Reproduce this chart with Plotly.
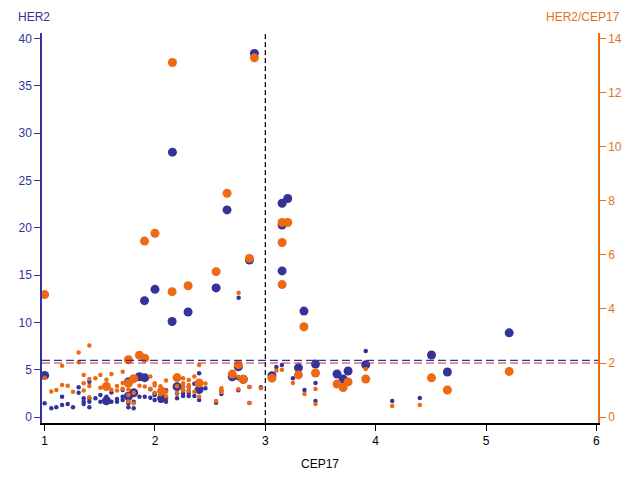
import plotly.graph_objects as go

# ---- data: large markers ----
big_cep17 = [1.00, 2.901, 2.158, 1.905, 2.00, 2.155, 2.30, 2.554, 2.653, 2.856,
             3.152, 3.203, 3.152, 3.152, 3.35, 5.21, 3.06, 3.65, 3.705, 3.75,
             3.91, 4.506, 4.65, 3.455, 3.30, 2.755, 2.70, 2.80, 1.807, 1.859,
             1.907, 1.759, 1.759, 2.20, 2.06, 1.56, 2.40]
big_her2 = [4.4, 38.44, 28.0, 12.3, 13.5, 10.1, 11.1, 13.65, 21.9, 16.6,
            22.6, 23.1, 20.3, 15.45, 11.2, 8.9, 4.37, 4.55, 4.02, 4.87,
            5.53, 6.56, 4.76, 5.6, 5.2, 5.32, 4.26, 3.99, 2.57, 4.26,
            4.16, 3.72, 2.2, 3.21, 1.98, 1.72, 2.9]
big_ratio = [4.53, 13.29, 13.12, 6.51, 6.8, 4.64, 4.86, 5.38, 8.28, 5.87,
             7.2, 7.2, 6.46, 4.9, 3.34, 1.69, 1.44, 1.22, 1.09, 1.30,
             1.41, 1.45, 1.0, 1.63, 1.56, 1.94, 1.59, 1.40, 1.42, 2.29,
             2.18, 2.12, 1.25, 1.46, 0.96, 1.13, 1.26]

# ---- data: small markers ----
small_cep17 = [1.00, 1.06, 1.106, 1.158, 1.158, 1.209, 1.257, 1.308, 1.308, 1.354,
               1.354, 1.354, 1.405, 1.405, 1.405, 1.405, 1.46, 1.505, 1.505, 1.56,
               1.605, 1.605, 1.656, 1.656, 1.707, 1.707, 1.707, 1.759, 1.759, 1.759,
               1.807, 1.807, 1.859, 1.907, 1.958, 1.958, 1.997, 1.997, 1.997, 2.049,
               2.049, 2.10, 2.10, 2.10, 2.20, 2.20, 2.255, 2.255, 2.255, 2.255,
               2.306, 2.306, 2.306, 2.306, 2.357, 2.357, 2.40, 2.40, 2.40, 2.457,
               2.554, 2.602, 2.602, 2.755, 2.755, 2.758, 2.856, 2.856, 2.96, 3.10,
               3.15, 3.25, 3.355, 3.455, 3.455, 3.91, 4.15, 4.40]
small_her2 = [1.45, 0.92, 1.03, 1.27, 2.15, 1.37, 1.03, 3.14, 2.57, 1.98,
              1.62, 1.37, 1.98, 1.62, 1.03, 3.72, 1.98, 2.33, 1.62, 2.15,
              1.62, 2.6, 1.90, 1.62, 2.15, 1.80, 2.87, 1.80, 1.45, 1.03,
              0.92, 1.62, 2.15, 2.15, 2.05, 2.93, 2.33, 1.80, 2.5, 2.33,
              1.72, 1.98, 1.62, 2.84, 2.5, 1.98, 2.5, 2.22, 3.24, 2.82,
              2.75, 2.22, 3.17, 2.58, 2.22, 3.53, 4.62, 3.04, 1.80, 3.04,
              1.51, 2.78, 2.43, 4.1, 2.84, 12.6, 3.18, 1.48, 3.16, 5.3,
              5.5, 4.1, 2.86, 3.6, 1.69, 6.98, 1.69, 2.0]
small_ratio = [1.45, 0.95, 1.0, 1.19, 1.9, 1.16, 0.94, 2.39, 2.03, 1.56,
               1.25, 0.98, 1.41, 1.15, 0.73, 2.65, 1.44, 1.56, 1.08, 1.38,
               1.01, 1.59, 1.15, 0.98, 1.26, 1.05, 1.68, 1.02, 0.82, 0.58,
               0.51, 0.90, 1.16, 1.13, 1.05, 1.50, 1.17, 0.90, 1.25, 1.14,
               0.84, 0.94, 0.77, 1.35, 1.14, 0.90, 1.11, 0.98, 1.44, 1.25,
               1.19, 0.96, 1.37, 1.12, 0.94, 1.50, 1.93, 1.27, 0.75, 1.24,
               0.59, 1.07, 0.93, 1.49, 1.03, 4.6, 1.11, 0.52, 1.07, 1.71,
               1.75, 1.26, 0.85, 1.04, 0.48, 1.78, 0.41, 0.45]

x_ticks = [1, 2, 3, 4, 5, 6]
her2_ticks = [0, 5, 10, 15, 20, 25, 30, 35, 40]
ratio_ticks = [0, 2, 4, 6, 8, 10, 12, 14]
her2_cutoff = 6
ratio_cutoff = 2
cep17_cutoff = 3

NAVY = "#333399"
ORANGE = "#EE6A12"
ORANGE_TXT = "#E0731E"
RED = "#C83232"
FONT = "Liberation Sans, Arial, sans-serif"

fig = go.Figure()
fig.add_trace(go.Scatter(x=small_cep17, y=small_her2, mode="markers",
                         marker=dict(size=4.5, color=NAVY), yaxis="y", showlegend=False))
fig.add_trace(go.Scatter(x=small_cep17, y=small_ratio, mode="markers",
                         marker=dict(size=4.5, color=ORANGE), yaxis="y2", showlegend=False))
fig.add_trace(go.Scatter(x=big_cep17, y=big_her2, mode="markers",
                         marker=dict(size=9, color=NAVY), yaxis="y", showlegend=False))
fig.add_trace(go.Scatter(x=big_cep17, y=big_ratio, mode="markers",
                         marker=dict(size=9, color=ORANGE), yaxis="y2", showlegend=False))

# reference lines
fig.add_shape(type="line", xref="paper", yref="y", x0=0, x1=1, y0=her2_cutoff, y1=her2_cutoff,
              line=dict(color=NAVY, width=1.2, dash="8px,4px"))
fig.add_shape(type="line", xref="paper", yref="y2", x0=0, x1=1, y0=ratio_cutoff, y1=ratio_cutoff,
              line=dict(color=RED, width=1.2, dash="8px,4px"))
fig.add_shape(type="line", xref="x", yref="paper", x0=cep17_cutoff, x1=cep17_cutoff, y0=0, y1=1,
              line=dict(color="black", width=1.2, dash="5px,3px"))

fig.update_layout(
    width=640, height=480,
    margin=dict(l=42, r=42, t=33, b=57),
    paper_bgcolor="white", plot_bgcolor="white",
    font=dict(family=FONT, size=12, color="black"),
    xaxis=dict(range=[0.976, 6.015], tickvals=x_ticks, showgrid=False, zeroline=False,
               showline=True, linecolor="black", linewidth=1.5, ticks="outside",
               ticklen=6, tickcolor="black", tickfont=dict(color="black", size=12),
               title=dict(text="CEP17", font=dict(color="black", size=12), standoff=12)),
    yaxis=dict(range=[-0.63, 40.6], tickvals=her2_ticks, showgrid=False, zeroline=False,
               showline=True, linecolor=NAVY, linewidth=1.5, ticks="outside", ticklen=6,
               tickcolor=NAVY, tickfont=dict(color=NAVY, size=12)),
    yaxis2=dict(range=[-0.22, 14.21], tickvals=ratio_ticks, overlaying="y", side="right",
                showgrid=False, zeroline=False, showline=True, linecolor=ORANGE, linewidth=1.5,
                ticks="outside", ticklen=6, tickcolor=ORANGE,
                tickfont=dict(color=ORANGE_TXT, size=12)),
    annotations=[
        dict(text="HER2", xref="paper", yref="paper", x=-0.047, y=1.042, xanchor="left",
             yanchor="middle", showarrow=False, font=dict(color=NAVY, size=12, family=FONT)),
        dict(text="HER2/CEP17", xref="paper", yref="paper", x=1.043, y=1.042, xanchor="right",
             yanchor="middle", showarrow=False, font=dict(color=ORANGE_TXT, size=12, family=FONT)),
    ],
)

fig.write_html("out.html", config={"displayModeBar": False},
               post_script="document.body.style.margin='0px';document.body.style.overflow='hidden';")
